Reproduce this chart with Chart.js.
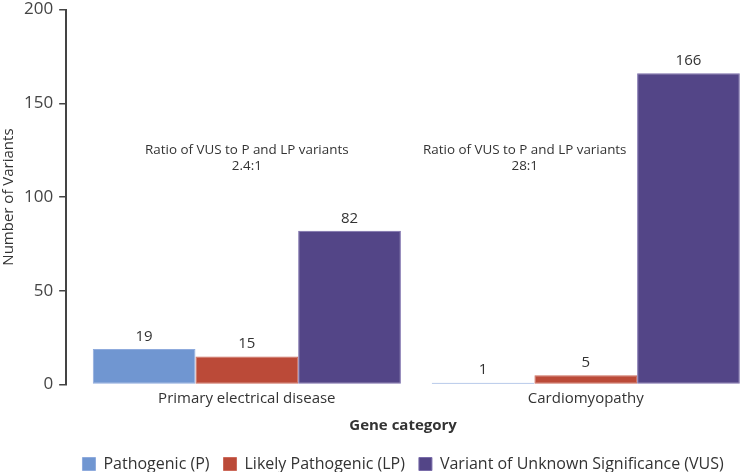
<!DOCTYPE html>
<html>
<head>
<meta charset="utf-8">
<script src="https://cdn.jsdelivr.net/npm/chart.js@4/dist/chart.umd.min.js"></script>
<style>
  html, body { margin: 0; padding: 0; background: #fff; overflow: hidden; }
  #wrap { width: 740px; height: 472px; }
</style>
</head>
<body>
<div id="wrap"><canvas id="variantsChart" width="740" height="472"></canvas></div>
<script>
// Dados
const categories = ['Primary electrical disease', 'Cardiomyopathy'];
const seriesNames = ['Pathogenic (P)', 'Likely Pathogenic (LP)', 'Variant of Unknown Significance (VUS)'];
const pathogenic = [19, 1];
const likelyPathogenic = [15, 5];
const vus = [82, 166];
const yTicks = [0, 50, 100, 150, 200];
const ratioTexts = [
    ['Ratio of VUS to P and LP variants', '2.4:1'],
    ['Ratio of VUS to P and LP variants', '28:1']
];

// ====================================================================
// Estilo
// ====================================================================
const FONT = '"Open Sans", Lato, sans-serif';
const TEXT = '#333';
const fills = ['#7096d1', '#bb4a38', '#534587'];
const edges = ['#8fabdd', '#cc6a5b', '#7a6daa'];
const ratioPos = [{ x: 0, y: 125 }, { x: 0.82, y: 125 }];

function toPoints(values) {
    return values.map((v, i) => ({ x: i, y: v }));
}

const seriesValues = [pathogenic, likelyPathogenic, vus];

const dataVariants = {
    datasets: seriesValues.map((vals, k) => ({
        label: seriesNames[k],
        data: toPoints(vals),
        backgroundColor: fills[k],
        borderColor: edges[k],
        borderWidth: 1,
        borderSkipped: false,
        categoryPercentage: 0.909,
        barPercentage: 1
    }))
};

// rótulos de valor acima das barras + textos de razão
const labelsPlugin = {
    id: 'valueLabels',
    afterDatasetsDraw(chart) {
        const c = chart.ctx;
        c.save();
        c.fillStyle = TEXT;
        c.textAlign = 'center';
        c.textBaseline = 'bottom';
        c.font = '15px ' + FONT;
        chart.data.datasets.forEach((ds, k) => {
            chart.getDatasetMeta(k).data.forEach((bar, i) => {
                c.fillText(String(ds.data[i].y), bar.x, bar.y - 5);
            });
        });

        const xs = chart.scales.x, ys = chart.scales.y;
        c.font = '13.4px ' + FONT;
        c.textBaseline = 'middle';
        ratioTexts.forEach((lines, i) => {
            const px = xs.getPixelForValue(ratioPos[i].x);
            const py = ys.getPixelForValue(ratioPos[i].y);
            lines.forEach((t, j) => c.fillText(t, px, py + j * 16));
        });
        c.restore();
    }
};

const optionsVariants = {
    responsive: false,
    animation: false,
    layout: { padding: { top: 0, right: 0, left: 0, bottom: -10 } },
    scales: {
        x: {
            type: 'linear',
            offset: false,
            min: -0.533,
            max: 1.455,
            afterBuildTicks(scale) {
                scale.ticks = categories.map((c, i) => ({ value: i }));
            },
            ticks: {
                color: TEXT,
                font: { family: FONT, size: 15 },
                padding: 4.75,
                autoSkip: false,
                maxRotation: 0,
                callback: (v) => categories[v]
            },
            grid: { display: false, drawTicks: false, offset: false },
            border: { display: false },
            title: {
                display: true,
                text: 'Gene category',
                color: TEXT,
                font: { family: FONT, size: 15, weight: 'bold' },
                padding: { top: 5, bottom: 7 }
            }
        },
        y: {
            min: 0,
            max: 200,
            afterBuildTicks(scale) {
                scale.ticks = yTicks.map(v => ({ value: v }));
            },
            ticks: {
                color: '#444',
                font: { family: FONT, size: 17, lineHeight: 0.42 },
                padding: 6
            },
            grid: {
                drawOnChartArea: false,
                drawTicks: true,
                tickLength: 7,
                color: '#444',
                lineWidth: 1.5
            },
            border: { display: true, color: '#444', width: 2 },
            title: {
                display: true,
                text: 'Number of Variants',
                color: TEXT,
                font: { family: FONT, size: 15 },
                padding: { top: 0, bottom: 0 }
            }
        }
    },
    plugins: {
        legend: {
            position: 'bottom',
            fullSize: false,
            labels: {
                color: TEXT,
                font: { family: FONT, size: 16 },
                boxWidth: 13,
                boxHeight: 13,
                padding: 14
            }
        },
        tooltip: { enabled: false }
    }
};

new Chart(document.getElementById('variantsChart').getContext('2d'), {
    type: 'bar',
    data: dataVariants,
    options: optionsVariants,
    plugins: [labelsPlugin]
});
</script>
</body>
</html>
